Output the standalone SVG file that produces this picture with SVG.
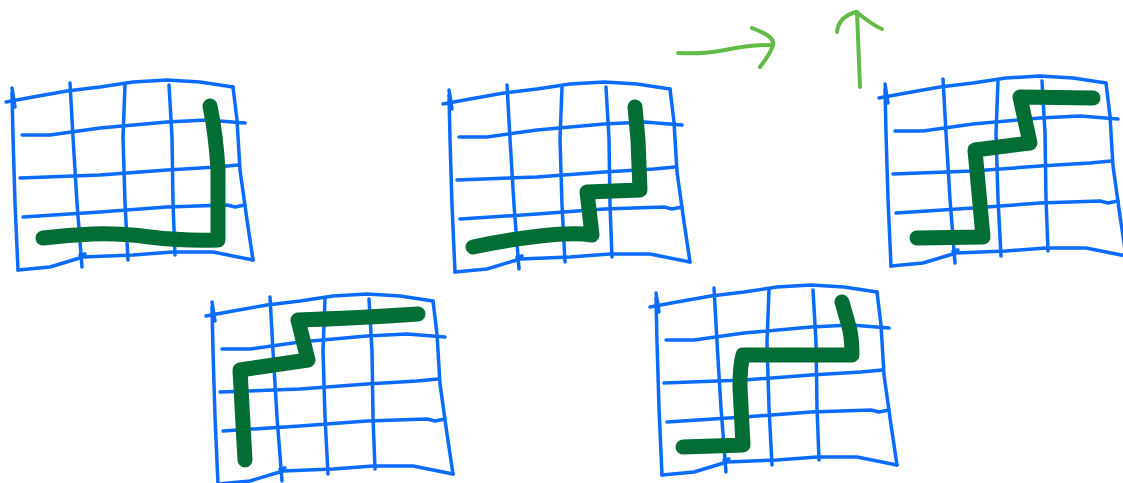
<svg xmlns="http://www.w3.org/2000/svg" width="1123" height="483" viewBox="0 0 1123 483">
<style>
.grid path{fill:none;stroke:#0a6cff;stroke-width:3.5;stroke-linecap:round;stroke-linejoin:round}
.route{fill:none;stroke:#036d36;stroke-width:15;stroke-linecap:round;stroke-linejoin:round}
.arrow{fill:none;stroke:#62bb47;stroke-width:4;stroke-linecap:round;stroke-linejoin:round}
</style>
<defs>
<g id="gridshape" class="grid">
<path d="M6,102 L33,97 L67,91 L100,87 L133,82 L167,80 L200,82 L233,87"/>
<path d="M12,88 L15,107"/>
<path d="M12,93 L13,137 L15,203 L18,270"/>
<path d="M233,87 L237,120 L240,170 L247,220 L253,260"/>
<path d="M18,270 L50,267 L83,257 L133,255 L173,252 L213,252 L253,260"/>
<path d="M22,135 L50,135 L100,128 L167,122 L207,120 L245,123"/>
<path d="M20,178 L100,175 L167,170 L217,167 L238,165"/>
<path d="M23,217 L100,212 L167,207 L227,205 L235,207 L245,205"/>
<path d="M70,83 L73,137 L77,203 L82,267"/>
<path d="M80,255 L85,254"/>
<path d="M125,85 L123,137 L125,203 L128,260"/>
<path d="M169,85 L172,137 L173,203 L175,255"/>
</g>
</defs>
<g id="grid1"><use href="#gridshape"/><path class="route" d="M43,238 Q68,235 93,234 T150,237 T218,240 L218,170 Q216,135 210,106"/></g>
<g id="grid2"><use href="#gridshape" transform="translate(437,2)"/><path class="route" d="M473,247 Q505,240 540,236 T592,235 L587,192 L640,190 L638,140 L635,107"/></g>
<g id="grid3"><use href="#gridshape" transform="translate(873,-4)"/><path class="route" d="M917,238 L983,237 L975,150 L1030,143 L1020,97 L1093,98"/></g>
<g id="grid4"><use href="#gridshape" transform="translate(200,214)"/><path class="route" d="M245,460 L240,370 L308,360 L298,320 Q360,318 418,314"/></g>
<g id="grid5"><use href="#gridshape" transform="translate(644,205)"/><path class="route" d="M683,447 L743,445 L740,387 Q740,365 743,355 L852,355 Q852,335 848,323 L842,302"/></g>
<g id="connectors">
<path class="arrow" d="M678,53 C695,54 710,53 725,50 C740,47 755,45 770,45"/>
<path class="arrow" d="M752,28 C765,33 775,38 773,45 C771,53 765,60 760,67"/>
<path class="arrow" d="M860,87 L857,12"/>
<path class="arrow" d="M837,32 C838,22 845,15 856,12 C865,18 872,25 882,29"/>
</g>
</svg>
